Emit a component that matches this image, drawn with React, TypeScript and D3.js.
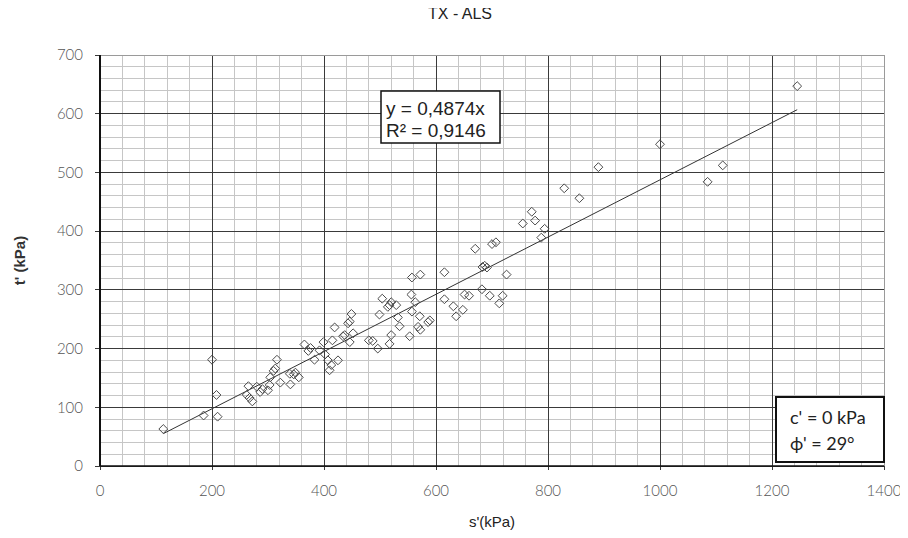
import React from "react";
import * as d3 from "d3";

// Effective stress path points: s' (kPa) and t' (kPa)
const sValues = [
  113, 185, 200, 208, 210, 262, 265, 267, 272, 280, 286, 290, 300, 303, 304, 310, 313, 316, 322, 339,
  340, 346, 349, 355, 365, 372, 376, 383, 392, 399, 402, 407, 410, 413, 415, 419, 425, 434, 437, 443,
  446, 449, 452, 446, 480, 487, 496, 499, 504, 514, 517, 520, 529, 532, 535, 520, 517, 556, 563, 557,
  572, 557, 571, 553, 568, 572, 586, 589, 615, 615, 631, 636, 648, 651, 659, 670, 683, 687, 691, 682,
  696, 700, 707, 713, 719, 726, 755, 771, 777, 788, 794, 829, 856, 890, 1000, 1085, 1112, 1245,
];
const tValues = [
  63, 86, 181, 121, 84, 121, 136, 116, 110, 135, 126, 131, 129, 138, 151, 162, 166, 181, 142, 157,
  139, 156, 159, 151, 207, 196, 201, 181, 197, 211, 190, 180, 163, 172, 214, 236, 180, 221, 223, 243,
  246, 259, 226, 211, 214, 213, 200, 258, 285, 271, 274, 279, 274, 253, 238, 223, 208, 292, 279, 321,
  326, 263, 255, 221, 237, 232, 245, 248, 330, 284, 272, 255, 266, 292, 290, 370, 339, 341, 338, 301,
  290, 378, 381, 277, 290, 326, 413, 433, 418, 389, 404, 473, 456, 509, 548, 484, 512, 647,
];

// Linear fit through the origin
const slope = 0.4874;
const rSquared = 0.9146;

const xMajorTicks = [0, 200, 400, 600, 800, 1000, 1200, 1400];
const yMajorTicks = [0, 100, 200, 300, 400, 500, 600, 700];
const xMinorStep = 40;
const yMinorStep = 20;

const chartTitle = "TX - ALS";
const xTitle = "s'(kPa)";
const yTitle = "t' (kPa)";
const strengthLines = ["c' = 0 kPa", "\u03d5' = 29\u00b0"];

const fmtComma = (v: number) => v.toFixed(4).replace(".", ",");

export default function App() {
  const width = 908;
  const height = 538;
  const left = 100;
  const right = 884;
  const top = 55;
  const bottom = 466;

  const x = d3.scaleLinear().domain([0, 1400]).range([left, right]);
  const y = d3.scaleLinear().domain([0, 700]).range([bottom, top]);

  const xMinor = d3.range(0, 1400 + 1, xMinorStep).filter((v) => v % 200 !== 0);
  const yMinor = d3.range(0, 700 + 1, yMinorStep).filter((v) => v % 100 !== 0);

  const points = sValues.map((s, i) => ({ s, t: tValues[i] }));
  const sMin = d3.min(sValues) as number;
  const sMax = d3.max(sValues) as number;
  const fitLine = d3
    .line<number>()
    .x((s) => x(s))
    .y((s) => y(slope * s));

  const diamond = d3.symbol().type(d3.symbolDiamond2).size(50)() as string;

  const tickFont = "Lato, 'DejaVu Sans', sans-serif";
  const textFont = "'Liberation Sans', Arial, sans-serif";

  return (
    <svg width={width} height={height} style={{ display: "block", margin: "-8px" }}>
      <rect x={0} y={0} width={width} height={height} fill="#ffffff" />

      {/* minor grid */}
      <g stroke="#c6c6c6" strokeWidth={1} shapeRendering="crispEdges">
        {xMinor.map((v) => (
          <line key={`xm${v}`} x1={x(v)} x2={x(v)} y1={top} y2={bottom} />
        ))}
        {yMinor.map((v) => (
          <line key={`ym${v}`} x1={left} x2={right} y1={y(v)} y2={y(v)} />
        ))}
      </g>

      {/* major grid */}
      <g stroke="#3a3a3a" strokeWidth={1} shapeRendering="crispEdges">
        {xMajorTicks.map((v) => (
          <line key={`xM${v}`} x1={x(v)} x2={x(v)} y1={top} y2={bottom + 4} />
        ))}
        {yMajorTicks.map((v) => (
          <line key={`yM${v}`} x1={left - 5} x2={right} y1={y(v)} y2={y(v)} />
        ))}
      </g>
      <line x1={x(1400)} x2={x(1400)} y1={top} y2={bottom} stroke="#9a9a9a" shapeRendering="crispEdges" />
      <line x1={left} x2={right} y1={top} y2={top} stroke="#9a9a9a" shapeRendering="crispEdges" />

      {/* axes */}
      <line x1={left} x2={left} y1={top} y2={bottom} stroke="#111" strokeWidth={2} />
      <line x1={left} x2={right} y1={bottom} y2={bottom} stroke="#111" strokeWidth={1.5} />

      {/* tick labels */}
      <g fontFamily={tickFont} fontSize={15} fontWeight={300} fill="#555">
        {yMajorTicks.map((v) => (
          <text key={`yl${v}`} x={left - 17} y={y(v)} dy="0.35em" textAnchor="end">
            {v}
          </text>
        ))}
        {xMajorTicks.map((v) => (
          <text key={`xl${v}`} x={x(v)} y={bottom + 30} textAnchor="middle">
            {v}
          </text>
        ))}
      </g>

      {/* trend line */}
      <path d={fitLine([sMin, sMax]) as string} fill="none" stroke="#333" strokeWidth={1} />

      {/* data markers */}
      <g fill="none" stroke="#4a4a4a" strokeWidth={1}>
        {points.map((p, i) => (
          <path key={i} d={diamond} transform={`translate(${x(p.s)},${y(p.t)})`} />
        ))}
      </g>

      {/* fit equation */}
      <g>
        <rect x={381} y={91} width={119} height={52} fill="#fff" stroke="#111" strokeWidth={1.5} />
        <text x={386} y={115} fontFamily={textFont} fontSize={19} fill="#222">
          {`y = ${fmtComma(slope)}x`}
        </text>
        <text x={386} y={137} fontFamily={textFont} fontSize={19} fill="#222">
          {`R\u00b2 = ${fmtComma(rSquared)}`}
        </text>
      </g>

      {/* strength parameters */}
      <g>
        <rect x={776} y={397} width={108} height={65} fill="#fff" stroke="#111" strokeWidth={2} />
        <text x={790} y={424} fontFamily="Lato, 'Open Sans', sans-serif" fontSize={18} fill="#222">
          {strengthLines[0]}
        </text>
        <text x={790} y={450} fontFamily="Lato, 'Open Sans', sans-serif" fontSize={18} fill="#222">
          {strengthLines[1]}
        </text>
      </g>

      {/* titles */}
      <text x={460} y={19} textAnchor="middle" fontFamily={textFont} fontSize={16} fill="#222">
        {chartTitle}
      </text>
      <text x={492} y={527} textAnchor="middle" fontFamily={textFont} fontSize={15} fill="#222">
        {xTitle}
      </text>
      <text
        transform={`translate(25,${(top + bottom) / 2}) rotate(-90)`}
        textAnchor="middle"
        fontFamily={textFont}
        fontSize={15}
        fontWeight="bold"
        fill="#333"
      >
        {yTitle}
      </text>
    </svg>
  );
}
